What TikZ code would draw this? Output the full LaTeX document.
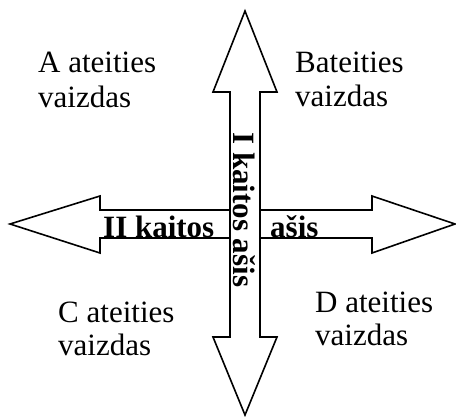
\documentclass[tikz,border=0pt]{standalone}
\usepackage{fontspec}
\setmainfont{Liberation Serif}
\begin{document}
\begin{tikzpicture}[x=1pt,y=-1pt,
  arrowshape/.style={draw=black,fill=white,line width=1.6pt,line join=miter},
  lbl/.style={anchor=base west,inner sep=0pt,font=\fontsize{31}{35.5}\selectfont,align=left},
  boldlbl/.style={anchor=base west,inner sep=0pt,font=\fontsize{31}{35.5}\selectfont\bfseries}]
\useasboundingbox (0,0) rectangle (456,416);
% horizontal arrow (II kaitos ašis)
\draw[arrowshape] (10,224) -- (100,196) -- (100,210) -- (372,210) -- (372,196) -- (455,224)
  -- (372,253) -- (372,238) -- (100,238) -- (100,253) -- cycle;
% vertical arrow (I kaitos ašis)
\draw[arrowshape] (245,11) -- (277,92) -- (260,92) -- (260,337) -- (277,337) -- (245,415)
  -- (213,337) -- (230,337) -- (230,92) -- (213,92) -- cycle;
% axis labels
\node[boldlbl] (h1) at (103,237) {II kaitos};
\node[boldlbl] (h2) at (270,237) {ašis};
\node[boldlbl,rotate=-90] (v) at (233,132) {I kaitos ašis};
% scenario labels
\node[lbl] (a1) at (38,72) {A ateities};
\node[lbl] (a2) at (38,107) {vaizdas};
\node[lbl] (b1) at (295,72) {Bateities};
\node[lbl] (b2) at (295,106) {vaizdas};
\node[lbl] (c1) at (58,322) {C ateities};
\node[lbl] (c2) at (58,355) {vaizdas};
\node[lbl] (d1) at (315,312) {D ateities};
\node[lbl] (d2) at (315,345) {vaizdas};
\end{tikzpicture}
\end{document}
